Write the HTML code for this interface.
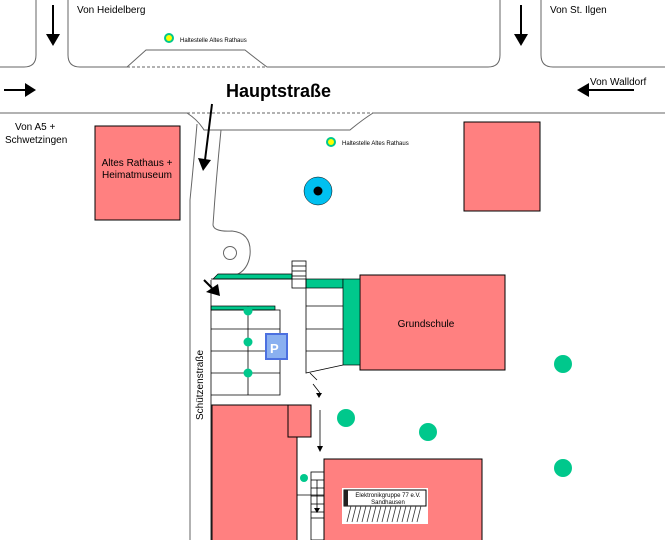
<!DOCTYPE html>
<html><head><meta charset="utf-8"><style>
body{margin:0;background:#fff}
svg{display:block}
text{font-family:"Liberation Sans",sans-serif;fill:#000}
</style></head><body>
<svg width="665" height="540" viewBox="0 0 665 540" xmlns="http://www.w3.org/2000/svg">
<g fill="none" stroke="#666" stroke-width="1">
<path d="M36 0 V55 Q36 67 24 67 H0"/>
<path d="M68 0 V55 Q68 67 80 67 H127 Q137 58 146 50 H245 Q255 58 267 67 H488 Q500 67 500 55 V0"/>
<path d="M541 0 V55 Q541 67 553 67 H665"/>
<path d="M127 67 H267" stroke-dasharray="3,2"/>
<path d="M0 113 H187"/><path d="M373 113 H665"/>
<path d="M187 113 H373" stroke-dasharray="3,2"/>
<path d="M187 113 Q198 120 204 130 H350 Q362 120 373 113"/>
<path d="M197 124 Q194 160 190 200 V540"/>
<path d="M221 130 Q216 180 213 225 Q214 232 232 231 Q252 233 250 255 Q248 270 236 275"/>
<circle cx="230" cy="253" r="6.5"/>
</g>
<g stroke="#000" stroke-width="2" fill="#000">
<line x1="53" y1="5" x2="53" y2="36"/><polygon points="46,34 60,34 53,46" stroke="none"/>
<line x1="521" y1="5" x2="521" y2="36"/><polygon points="514,34 528,34 521,46" stroke="none"/>
<line x1="4" y1="90" x2="28" y2="90"/><polygon points="25,83 25,97 36,90" stroke="none"/>
<line x1="634" y1="90" x2="586" y2="90"/><polygon points="589,83 589,97 577,90" stroke="none"/>
<line x1="212" y1="104" x2="205" y2="160"/><polygon points="198,158 211,160 203,171" stroke="none"/>
<line x1="204" y1="280" x2="212" y2="288"/><polygon points="206,292 218,284 220,296" stroke="none"/>
</g>
<text x="77" y="13" font-size="10">Von Heidelberg</text>
<text x="550" y="13" font-size="10">Von St. Ilgen</text>
<text x="590" y="85" font-size="10">Von Walldorf</text>
<text x="15" y="130" font-size="10">Von A5 +</text>
<text x="5" y="143" font-size="10">Schwetzingen</text>
<text x="226" y="97" font-size="18" font-weight="bold">Hauptstraße</text>
<circle cx="169" cy="38" r="5" fill="#00c88c"/><circle cx="169" cy="38" r="3" fill="#ff0"/>
<text x="180" y="42" font-size="6">Haltestelle Altes Rathaus</text>
<circle cx="331" cy="142" r="5" fill="#00c88c"/><circle cx="331" cy="142" r="3" fill="#ff0"/>
<text x="342" y="145" font-size="6">Haltestelle Altes Rathaus</text>
<g fill="#ff8080" stroke="#000" stroke-width="1">
<rect x="95" y="126" width="85" height="94"/>
<rect x="464" y="122" width="76" height="89"/>
<rect x="360" y="275" width="145" height="95"/>
<rect x="212" y="405" width="85" height="140"/>
<rect x="288" y="405" width="23" height="32"/>
<rect x="324" y="459" width="158" height="90"/>
</g>
<text x="137" y="166" font-size="10" text-anchor="middle">Altes Rathaus +</text>
<text x="137" y="178" font-size="10" text-anchor="middle">Heimatmuseum</text>
<text x="426" y="327" font-size="10" text-anchor="middle">Grundschule</text>
<circle cx="318" cy="191" r="14" fill="#00c0f0" stroke="#000" stroke-width="0.5"/>
<circle cx="318" cy="191" r="4.5" fill="#000"/>
<g fill="#00c88c"><circle cx="346" cy="418" r="9"/><circle cx="428" cy="432" r="9"/><circle cx="563" cy="364" r="9"/><circle cx="563" cy="468" r="9"/><circle cx="304" cy="478" r="4"/></g>
<g fill="#00c88c" stroke="#000" stroke-width="0.7">
<polygon points="218,274 292,274 292,279 213,279"/>
<rect x="306" y="279" width="37" height="9"/>
<rect x="343" y="279" width="17" height="86"/>
<rect x="211" y="306" width="64" height="4"/>
</g>
<g fill="none" stroke="#000" stroke-width="0.8">
<rect x="292" y="261" width="14" height="27"/>
<line x1="292" y1="266" x2="306" y2="266"/><line x1="292" y1="271" x2="306" y2="271"/><line x1="292" y1="276" x2="306" y2="276"/>
<path d="M211 280 V540"/>
<path d="M211 279 H306 V373 L343 365"/>
<line x1="306" y1="306" x2="343" y2="306"/><line x1="306" y1="329" x2="343" y2="329"/><line x1="306" y1="351" x2="343" y2="351"/>
<path d="M211 310 H280 V395 H211"/>
<line x1="211" y1="329" x2="280" y2="329"/><line x1="211" y1="351" x2="280" y2="351"/><line x1="211" y1="373" x2="280" y2="373"/>
<line x1="248" y1="306" x2="248" y2="395"/>
<path d="M310 373 L317 380" /><path d="M313 384 L320 393"/>
<line x1="320" y1="410" x2="320" y2="446"/>
<path d="M297 437 V540"/><line x1="297" y1="495" x2="324" y2="495"/>
<rect x="311" y="472" width="13" height="68"/>
<line x1="311" y1="480" x2="324" y2="480"/><line x1="311" y1="488" x2="324" y2="488"/><line x1="311" y1="496" x2="324" y2="496"/>
<line x1="311" y1="504" x2="324" y2="504"/><line x1="311" y1="512" x2="324" y2="512"/><line x1="311" y1="518" x2="324" y2="518"/>
<line x1="317" y1="480" x2="317" y2="508"/>
</g>
<polygon points="316,393 322,393 319,398" fill="#000"/>
<polygon points="317,446 323,446 320,452" fill="#000"/>
<polygon points="314,508 320,508 317,513" fill="#000"/>
<g fill="#00c88c"><circle cx="248" cy="311" r="4.5"/><circle cx="248" cy="342" r="4.5"/><circle cx="248" cy="373" r="4.5"/></g>
<rect x="265" y="333" width="23" height="27" fill="#4c70e0"/>
<rect x="267" y="335" width="19" height="23" fill="#8ab0f0"/>
<text x="270" y="353" font-size="13" font-weight="bold" style="fill:#fff">P</text>
<text transform="translate(203,385) rotate(-90)" font-size="10" text-anchor="middle">Schützenstraße</text>
<rect x="342" y="488" width="86" height="36" fill="#fff"/>
<rect x="344" y="490" width="82" height="16" fill="#fff" stroke="#000" stroke-width="1"/>
<rect x="344" y="490" width="4" height="16" fill="#222"/>
<text x="388" y="497" font-size="6" text-anchor="middle">Elektronikgruppe 77 e.V.</text>
<text x="388" y="504" font-size="6" text-anchor="middle">Sandhausen</text>
<g stroke="#333" stroke-width="0.8">
<path d="M347 522 l4 -16 M352 522 l4 -16 M357 522 l4 -16 M362 522 l4 -16 M367 522 l4 -16 M372 522 l4 -16 M377 522 l4 -16 M382 522 l4 -16 M387 522 l4 -16 M392 522 l4 -16 M397 522 l4 -16 M402 522 l4 -16 M407 522 l4 -16 M412 522 l4 -16 M417 522 l4 -16"/>
</g>
</svg>
</body></html>
